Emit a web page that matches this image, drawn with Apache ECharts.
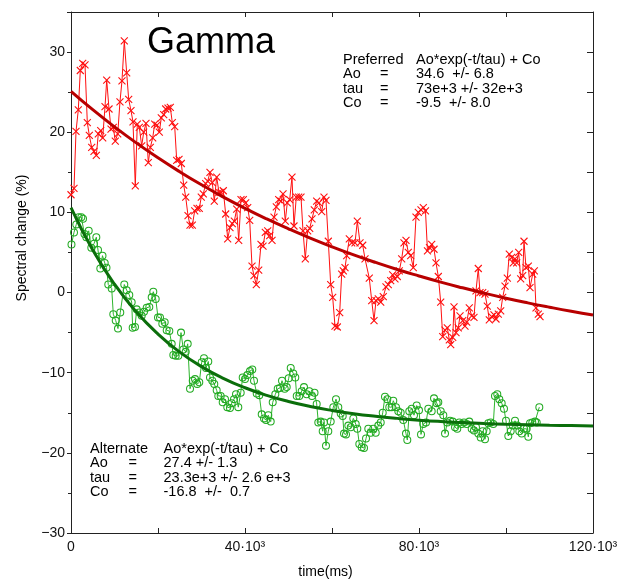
<!DOCTYPE html>
<html><head><meta charset="utf-8">
<script src="https://cdn.jsdelivr.net/npm/echarts@6/dist/echarts.min.js"></script>
<style>html,body{margin:0;padding:0;background:#fff}#c{width:628px;height:581px}</style>
</head><body><div id="c"></div>
<script>
const redTime = [0,690,1150,1680,2140,2690,3220,3750,4210,4760,
5290,5820,6280,6830,7290,7820,8210,8740,9200,9720,
10180,10740,11260,11720,12250,12800,13260,13790,14250,14780,
15240,15700,16250,16710,17240,17770,18230,18780,19240,19770,
20300,20760,21310,21770,22300,22830,23290,23840,24300,24830,
25360,25910,26370,26900,27360,27890,28440,28970,29490,29950,
30410,30970,31430,31950,32480,32940,33490,34020,34480,35010,
35560,36020,36550,37080,37540,38090,38550,39080,39610,40160,
40620,41080,41610,42070,42600,43150,43680,44140,44670,45220,
45680,46210,46670,47200,47750,48280,48740,49260,49720,50280,
50800,51260,51790,52340,52870,53330,53860,54410,54870,55400,
55930,56480,57010,57630,58160,58620,59150,59700,60160,60690,
61220,61770,62230,62600,62990,63380,63980,64530,65290,65820,
66440,67060,67590,68570,69130,69660,70110,70640,71200,71790,
72410,72940,73490,73950,74480,75010,75470,76020,76550,77010,
77540,78090,78690,79310,79840,80460,80990,81490,81950,82410,
82920,83450,83910,84440,84990,85450,85980,86510,86970,87290,
87750,88050,88510,89030,89430,90050,90570,90970,91560,92110,
92640,93100,93630,94020,94640,95170,95700,96160,96710,97240,
97700,98230,98780,99240,99770,100300,100760,101310,101680,102070,
102460,102920,103380,103840,104140,104600,105130,105520,106140,106510,
106900,107430,107820];
const redValue = [12.2,13.0,20.1,22.8,27.7,28.6,28.4,21.2,19.6,18.1,
17.6,17.1,19.8,20.2,19.3,23.2,26.5,22.9,20.4,20.6,
18.9,19.8,23.8,26.4,31.4,27.4,24.1,22.7,21.3,13.3,
21.0,20.6,18.3,20.0,21.1,16.2,18.1,19.3,21.0,20.9,
20.0,21.8,22.2,22.9,23.0,23.1,21.2,20.7,16.5,16.6,
16.1,13.4,11.9,9.6,8.4,8.4,10.2,10.5,10.5,11.9,
12.3,13.6,13.9,15.0,13.7,11.4,14.4,12.5,12.5,12.7,
9.8,6.7,8.1,8.6,8.9,10.4,6.5,11.6,11.6,11.2,
10.6,9.0,3.3,2.1,1.0,2.8,6.0,5.8,7.5,7.7,
7.1,6.5,9.4,10.7,11.6,11.4,12.3,8.9,11.2,11.6,
14.4,8.3,11.9,11.9,11.9,7.7,4.2,7.7,8.0,9.2,
10.3,11.4,11.2,10.1,11.9,11.5,6.4,1.0,-0.6,-4.2,
-4.3,-2.5,2.3,2.7,3.1,4.6,6.7,6.2,6.2,8.9,
6.2,5.9,4.2,1.8,-1.0,-3.5,-1.0,-0.8,-1.2,-0.5,
0.7,1.0,1.5,2.2,1.7,2.0,2.7,4.2,6.2,6.5,
5.0,4.6,3.1,9.4,10.0,10.3,10.6,10.2,5.2,5.6,
6.0,5.4,3.7,2.0,-1.2,-5.5,-4.7,-4.4,-5.9,-6.5,
-5.6,-1.8,-5.0,-4.4,-2.9,-3.5,-4.2,-3.7,-1.9,-2.9,
-3.1,0.2,3.0,0.0,0.0,-0.2,-1.7,-3.4,-3.0,-2.8,
-3.3,-2.7,-2.3,-0.6,0.8,1.8,4.8,4.4,3.7,4.2,
3.7,5.0,1.7,2.1,6.4,3.1,3.3,0.6,2.3,2.7,
-1.9,-2.7,-3.0];
const greenTime = [110,690,1220,1770,2370,2760,3100,3520,4070,4670,
5290,5820,6210,6740,7240,7750,8160,8570,9360,9720,
10280,10800,11330,12250,12800,13400,13950,14180,14710,15100,
15700,16250,16780,17400,18000,18550,18920,19470,20000,20460,
20990,21540,22000,22600,23150,23520,24070,24670,25290,25820,
26370,26830,27360,27980,28510,29030,29490,30050,30570,31030,
31560,31950,32480,32940,33490,33860,34410,34870,35400,35930,
36550,36940,37470,37930,38460,39010,39470,40000,40530,41150,
41680,42070,42690,43290,43840,44370,44830,45360,45910,46370,
46970,47520,48050,48510,49130,49590,50050,50510,51100,51560,
51890,52480,53030,53560,54180,54780,55400,55980,56480,56850,
57400,57860,58160,58620,59150,59700,60300,60920,61450,62000,
62460,62760,63220,63750,64300,64900,65450,65820,66280,66830,
67360,67820,68340,68900,69490,70050,70640,71200,71660,72180,
72710,73170,73720,74090,74710,75240,75790,76390,77010,77310,
77770,78320,78850,79470,80000,80460,80990,81610,82140,82920,
83450,84070,84440,84990,85590,85980,86510,87130,87750,88280,
88800,89260,89820,90340,90970,91560,92110,92640,93100,93630,
94180,94640,95170,95560,95930,96480,97080,97470,98000,98460,
99010,99540,100000,100530,101080,101540,102070,102600,103060,103610,
104140,104760,105130,105520,106050,106670,107060,107660];
const greenValue = [6.0,7.5,8.5,9.4,9.4,9.2,7.3,6.9,7.7,5.6,
6.1,6.9,5.3,3.0,4.6,3.7,3.1,1.0,0.5,-2.7,
-3.5,-4.5,-2.5,1.0,0.3,-0.3,-1.2,-4.4,-4.3,-2.1,
-2.5,-2.9,-2.4,-1.9,-1.8,-0.6,0.1,-0.8,-3.1,-3.1,
-3.9,-3.7,-4.7,-4.8,-6.4,-7.8,-7.9,-7.9,-5.0,-7.1,
-7.4,-6.4,-12.0,-11.0,-10.8,-11.4,-11.2,-8.7,-8.2,-9.4,
-8.6,-10.6,-11.0,-11.4,-12.2,-12.9,-12.9,-13.7,-13.3,-14.3,
-14.4,-13.8,-13.3,-12.7,-14.3,-12.5,-10.6,-10.8,-10.3,-9.8,
-9.6,-11.0,-12.6,-12.8,-15.2,-15.7,-15.9,-15.3,-16.1,-13.7,
-12.7,-12.0,-11.9,-11.0,-12.0,-11.8,-10.7,-9.4,-10.1,-10.6,
-12.9,-12.9,-12.3,-11.8,-12.7,-12.3,-12.9,-12.5,-13.9,-16.2,
-16.1,-17.3,-16.2,-19.1,-17.3,-16.1,-14.3,-13.3,-14.3,-15.1,
-15.4,-17.6,-17.7,-16.6,-16.8,-15.7,-16.4,-17.0,-18.9,-19.3,
-19.4,-18.2,-17.0,-17.5,-17.0,-17.5,-16.6,-16.2,-15.0,-13.0,
-13.3,-14.3,-14.3,-13.5,-14.3,-14.8,-15.0,-15.9,-17.6,-18.4,
-14.8,-14.5,-15.3,-14.1,-14.7,-17.7,-16.4,-16.2,-14.5,-14.8,
-13.2,-13.8,-13.7,-14.8,-15.3,-17.6,-16.2,-16.0,-16.1,-16.8,
-17.0,-16.2,-16.4,-16.2,-16.4,-16.1,-17.0,-17.2,-16.8,-17.6,
-18.1,-17.3,-18.3,-17.3,-16.3,-16.2,-16.4,-12.9,-12.7,-13.3,
-13.8,-14.5,-16.0,-17.9,-17.3,-16.6,-16.0,-16.6,-17.3,-17.6,
-17.0,-17.0,-18.0,-16.3,-16.2,-16.1,-16.2,-14.3];
const fitTime = [0,5000,10000,15000,20000,25000,30000,35000,40000,45000,50000,55000,60000,
65000,70000,75000,80000,85000,90000,95000,100000,105000,110000,115000,120000];
const redFit = [25.1,22.81,20.67,18.67,16.81,15.07,13.44,11.92,10.50,9.18,7.95,6.79,5.71,
4.70,3.76,2.88,2.07,1.30,0.59,-0.08,-0.71,-1.29,-1.83,-2.34,-2.81];
const greenFit = [10.6,5.31,1.04,-2.41,-5.19,-7.43,-9.24,-10.70,-11.88,-12.83,-13.59,-14.21,-14.71,
-15.12,-15.44,-15.70,-15.92,-16.09,-16.22,-16.34,-16.43,-16.50,-16.56,-16.60,-16.64];
const xTickLabels = {0:'0',40000:'40·10³',80000:'80·10³',120000:'120·10³'};
const yTickLabels = [-30,-20,-10,0,10,20,30];

const pair = (xs, ys) => xs.map((x, i) => [x, ys[i]]);
const FONT = '"Liberation Sans", Arial, Helvetica, sans-serif';
const AX = '#222';

const chart = echarts.init(document.getElementById('c'), null, {renderer: 'canvas'});
const txt = (t, x, y, size, extra) => Object.assign({
  type: 'text', x: x, y: y,
  style: {text: t, font: size + 'px ' + FONT, fill: '#000', textVerticalAlign: 'middle', textAlign: 'left'}
}, extra || {});

const graphics = [
  txt('Gamma', 147, 43, 36),
  txt('Preferred', 343, 59.5, 14.5), txt('Ao*exp(-t/tau) + Co', 416, 59.5, 14.5),
  txt('Ao', 343, 74, 14.5), txt('=', 380, 74, 14.5), txt('34.6  +/- 6.8', 416, 74, 14.5),
  txt('tau', 343, 88.5, 14.5), txt('=', 380, 88.5, 14.5), txt('73e+3 +/- 32e+3', 416, 88.5, 14.5),
  txt('Co', 343, 103, 14.5), txt('=', 380, 103, 14.5), txt('-9.5  +/- 8.0', 416, 103, 14.5),
  txt('Alternate', 90, 448.5, 14.5), txt('Ao*exp(-t/tau) + Co', 163.5, 448.5, 14.5),
  txt('Ao', 90, 463, 14.5), txt('=', 128.5, 463, 14.5), txt('27.4 +/- 1.3', 163.5, 463, 14.5),
  txt('tau', 90, 477.5, 14.5), txt('=', 128.5, 477.5, 14.5), txt('23.3e+3 +/- 2.6 e+3', 163.5, 477.5, 14.5),
  txt('Co', 90, 492, 14.5), txt('=', 128.5, 492, 14.5), txt('-16.8  +/-  0.7', 163.5, 492, 14.5),
  {type: 'text', x: 22, y: 238, rotation: Math.PI / 2,
   style: {text: 'Spectral change (%)', font: '14px ' + FONT, fill: '#000', textAlign: 'center', textVerticalAlign: 'middle'}},
  {type: 'text', x: 325.5, y: 572.5,
   style: {text: 'time(ms)', font: '14px ' + FONT, fill: '#000', textAlign: 'center', textVerticalAlign: 'middle'}}
];

// ring-shaped marker: outer circle clockwise, inner circle counter-clockwise (hollow centre)
const RING = 'path://M10,0A10,10 0 1,1 10,20A10,10 0 1,1 10,0Z M10,2.6A7.4,7.4 0 1,0 10,17.4A7.4,7.4 0 1,0 10,2.6Z';

const lineStyleAx = {color: AX, width: 1};
const option = {
  animation: false,
  backgroundColor: '#fff',
  grid: {left: 71, right: 35, top: 12, bottom: 48, containLabel: false},
  xAxis: [
    {type: 'value', position: 'bottom', min: 0, max: 120000, interval: 20000,
     axisLine: {show: true, onZero: false, lineStyle: lineStyleAx},
     axisTick: {show: true, inside: true, length: 5, lineStyle: lineStyleAx},
     splitLine: {show: false},
     axisLabel: {show: true, margin: 7, color: '#111', fontSize: 14, fontFamily: FONT,
       formatter: v => (xTickLabels[v] !== undefined ? xTickLabels[v] : '')}},
    {type: 'value', position: 'top', min: 0, max: 120000, interval: 20000,
     axisLine: {show: true, onZero: false, lineStyle: lineStyleAx},
     axisTick: {show: true, inside: true, length: 5, lineStyle: lineStyleAx},
     splitLine: {show: false}, axisLabel: {show: false}}
  ],
  yAxis: [
    {type: 'value', position: 'left', min: -30, max: 35, interval: 10,
     axisLine: {show: true, onZero: false, lineStyle: lineStyleAx},
     axisTick: {show: true, inside: false, length: 4, lineStyle: lineStyleAx},
     minorTick: {show: true, splitNumber: 2, length: 3, lineStyle: lineStyleAx},
     splitLine: {show: false}, minorSplitLine: {show: false},
     axisLabel: {show: true, margin: 6, color: '#111', fontSize: 14, fontFamily: FONT, showMaxLabel: false,
       formatter: v => (yTickLabels.indexOf(v) >= 0 ? String(v).replace('-', '\u2212') : '')}},
    {type: 'value', position: 'right', min: -30, max: 35, interval: 5,
     axisLine: {show: true, onZero: false, lineStyle: lineStyleAx},
     axisTick: {show: true, inside: true, length: 6, lineStyle: lineStyleAx},
     splitLine: {show: false}, axisLabel: {show: false}}
  ],
  graphic: graphics,
  series: [
    {type: 'line', name: 'preferred data', data: pair(redTime, redValue),
     xAxisIndex: 0, yAxisIndex: 0,
     symbol: 'path://M0,0L10,10M10,0L0,10', symbolSize: 7, showAllSymbol: true,
     lineStyle: {color: '#ff1010', width: 1},
     itemStyle: {color: '#ff1010', borderColor: '#ff1010', borderWidth: 1.1}, z: 3},
    {type: 'line', name: 'alternate data', data: pair(greenTime, greenValue),
     xAxisIndex: 0, yAxisIndex: 0,
     symbol: RING, symbolSize: 8, showAllSymbol: true,
     lineStyle: {color: '#2db52d', width: 1},
     itemStyle: {color: '#22aa22', borderWidth: 0}, z: 3},
    {type: 'line', name: 'preferred fit', data: pair(fitTime, redFit),
     xAxisIndex: 0, yAxisIndex: 0, smooth: true, symbol: 'none',
     lineStyle: {color: '#b80000', width: 3}, z: 4},
    {type: 'line', name: 'alternate fit', data: pair(fitTime, greenFit),
     xAxisIndex: 0, yAxisIndex: 0, smooth: true, symbol: 'none',
     lineStyle: {color: '#0b6e0b', width: 3}, z: 4}
  ]
};
chart.setOption(option);
</script>
</body></html>
